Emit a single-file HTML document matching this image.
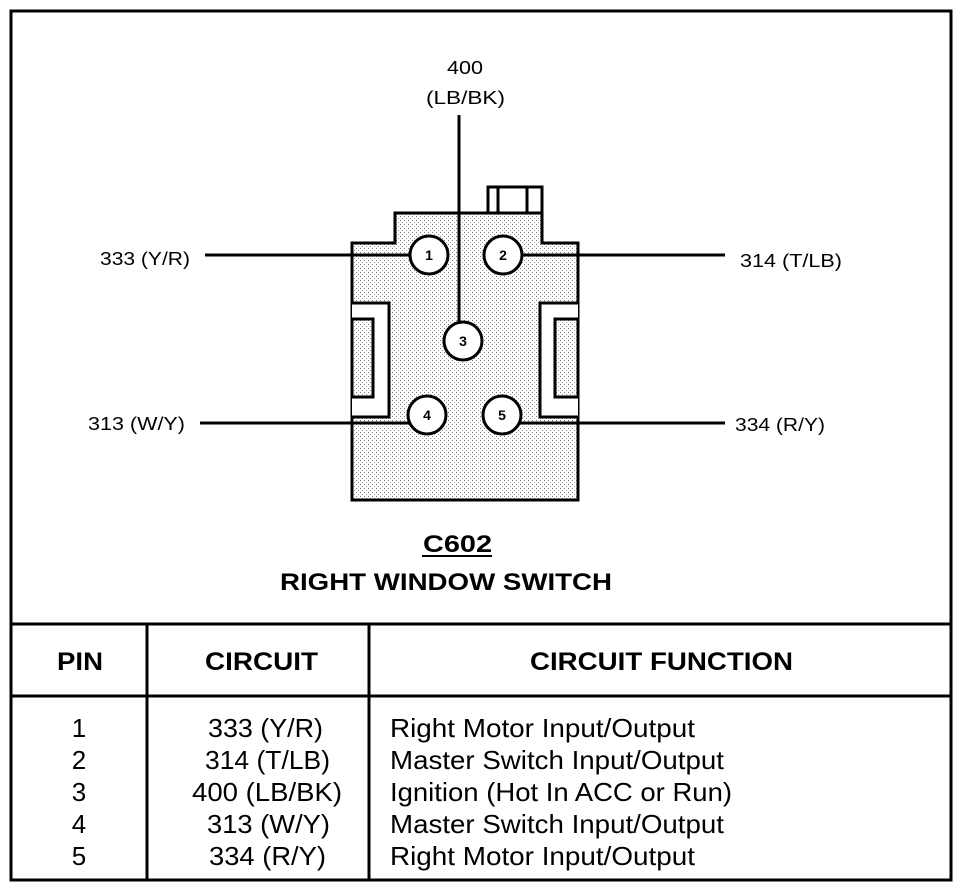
<!DOCTYPE html>
<html><head><style>
html,body{margin:0;padding:0;background:#fff;}
svg{display:block;}
text{font-family:"Liberation Sans",Arial,sans-serif;fill:#000;}
</style></head><body>
<svg width="976" height="890" viewBox="0 0 976 890" xmlns="http://www.w3.org/2000/svg">
<defs>
<pattern id="dots" width="4" height="4" patternUnits="userSpaceOnUse">
<rect width="4" height="4" fill="#fff"/>
<rect x="0" y="0" width="1" height="1" fill="#777"/>
<rect x="2" y="2" width="1" height="1" fill="#999"/>
</pattern>
</defs>
<rect x="11" y="11" width="940" height="869" fill="none" stroke="#000" stroke-width="3"/>
<line x1="11" y1="624" x2="951" y2="624" stroke="#000" stroke-width="3"/>
<line x1="11" y1="696" x2="951" y2="696" stroke="#000" stroke-width="3"/>
<line x1="147" y1="624" x2="147" y2="880" stroke="#000" stroke-width="3"/>
<line x1="369" y1="624" x2="369" y2="880" stroke="#000" stroke-width="3"/>

<rect x="488" y="187" width="54" height="26" fill="#fff" stroke="#000" stroke-width="3"/>
<line x1="498" y1="187" x2="498" y2="213" stroke="#000" stroke-width="3"/>
<line x1="527" y1="187" x2="527" y2="213" stroke="#000" stroke-width="3"/>
<path d="M352 243 L395 243 L395 213 L542 213 L542 243 L578 243 L578 500 L352 500 Z" fill="url(#dots)" stroke="#000" stroke-width="3"/>
<path d="M352 303 L389 303 L389 417 L352 417" fill="#fff" stroke="#000" stroke-width="3"/>
<rect x="352" y="319" width="21" height="78" fill="url(#dots)" stroke="#000" stroke-width="3"/>
<path d="M578 303 L540 303 L540 417 L578 417" fill="#fff" stroke="#000" stroke-width="3"/>
<rect x="555" y="319" width="23" height="78" fill="url(#dots)" stroke="#000" stroke-width="3"/>

<line x1="205" y1="255" x2="410" y2="255" stroke="#000" stroke-width="3"/>
<line x1="522" y1="255" x2="725" y2="255" stroke="#000" stroke-width="3"/>
<line x1="200" y1="423" x2="410" y2="423" stroke="#000" stroke-width="3"/>
<line x1="520" y1="423" x2="725" y2="423" stroke="#000" stroke-width="3"/>
<line x1="459" y1="115" x2="459" y2="322" stroke="#000" stroke-width="3"/>

<g stroke="#000" stroke-width="3" fill="#fff">
<circle cx="429" cy="255" r="19"/>
<circle cx="503" cy="255" r="19"/>
<circle cx="463" cy="341" r="19"/>
<circle cx="427" cy="415" r="19"/>
<circle cx="502" cy="415" r="19"/>
</g>
<g font-size="14" font-weight="bold" text-anchor="middle">
<text x="429" y="260">1</text>
<text x="503" y="260">2</text>
<text x="463" y="346">3</text>
<text x="427" y="420">4</text>
<text x="502" y="420">5</text>
</g>

<g font-size="18" lengthAdjust="spacingAndGlyphs">
<text x="447" y="74" textLength="36" lengthAdjust="spacingAndGlyphs">400</text>
<text x="426" y="104" textLength="79" lengthAdjust="spacingAndGlyphs">(LB/BK)</text>
<text x="100" y="265" textLength="90" lengthAdjust="spacingAndGlyphs">333 (Y/R)</text>
<text x="740" y="267" textLength="102" lengthAdjust="spacingAndGlyphs">314 (T/LB)</text>
<text x="88" y="430" textLength="97" lengthAdjust="spacingAndGlyphs">313 (W/Y)</text>
<text x="735" y="431" textLength="90" lengthAdjust="spacingAndGlyphs">334 (R/Y)</text>
</g>

<text x="423" y="552" font-size="24" font-weight="bold" textLength="69" lengthAdjust="spacingAndGlyphs">C602</text>
<line x1="422" y1="556" x2="492" y2="556" stroke="#000" stroke-width="2"/>
<text x="280" y="590" font-size="24" font-weight="bold" textLength="332" lengthAdjust="spacingAndGlyphs">RIGHT WINDOW SWITCH</text>

<g font-size="25" font-weight="bold">
<text x="57" y="670" textLength="46" lengthAdjust="spacingAndGlyphs">PIN</text>
<text x="205" y="670" textLength="113" lengthAdjust="spacingAndGlyphs">CIRCUIT</text>
<text x="530" y="670" textLength="263" lengthAdjust="spacingAndGlyphs">CIRCUIT FUNCTION</text>
</g>
<g font-size="26">
<text x="79" y="737" text-anchor="middle">1</text>
<text x="79" y="769" text-anchor="middle">2</text>
<text x="79" y="801" text-anchor="middle">3</text>
<text x="79" y="833" text-anchor="middle">4</text>
<text x="79" y="865" text-anchor="middle">5</text>
<text x="208" y="737" textLength="115" lengthAdjust="spacingAndGlyphs">333 (Y/R)</text>
<text x="205" y="769" textLength="125" lengthAdjust="spacingAndGlyphs">314 (T/LB)</text>
<text x="192" y="801" textLength="150" lengthAdjust="spacingAndGlyphs">400 (LB/BK)</text>
<text x="207" y="833" textLength="123" lengthAdjust="spacingAndGlyphs">313 (W/Y)</text>
<text x="209" y="865" textLength="117" lengthAdjust="spacingAndGlyphs">334 (R/Y)</text>
<text x="390" y="737" textLength="305" lengthAdjust="spacingAndGlyphs">Right Motor Input/Output</text>
<text x="390" y="769" textLength="334" lengthAdjust="spacingAndGlyphs">Master Switch Input/Output</text>
<text x="390" y="801" textLength="342" lengthAdjust="spacingAndGlyphs">Ignition (Hot In ACC or Run)</text>
<text x="390" y="833" textLength="334" lengthAdjust="spacingAndGlyphs">Master Switch Input/Output</text>
<text x="390" y="865" textLength="305" lengthAdjust="spacingAndGlyphs">Right Motor Input/Output</text>
</g>
</svg>
</body></html>
